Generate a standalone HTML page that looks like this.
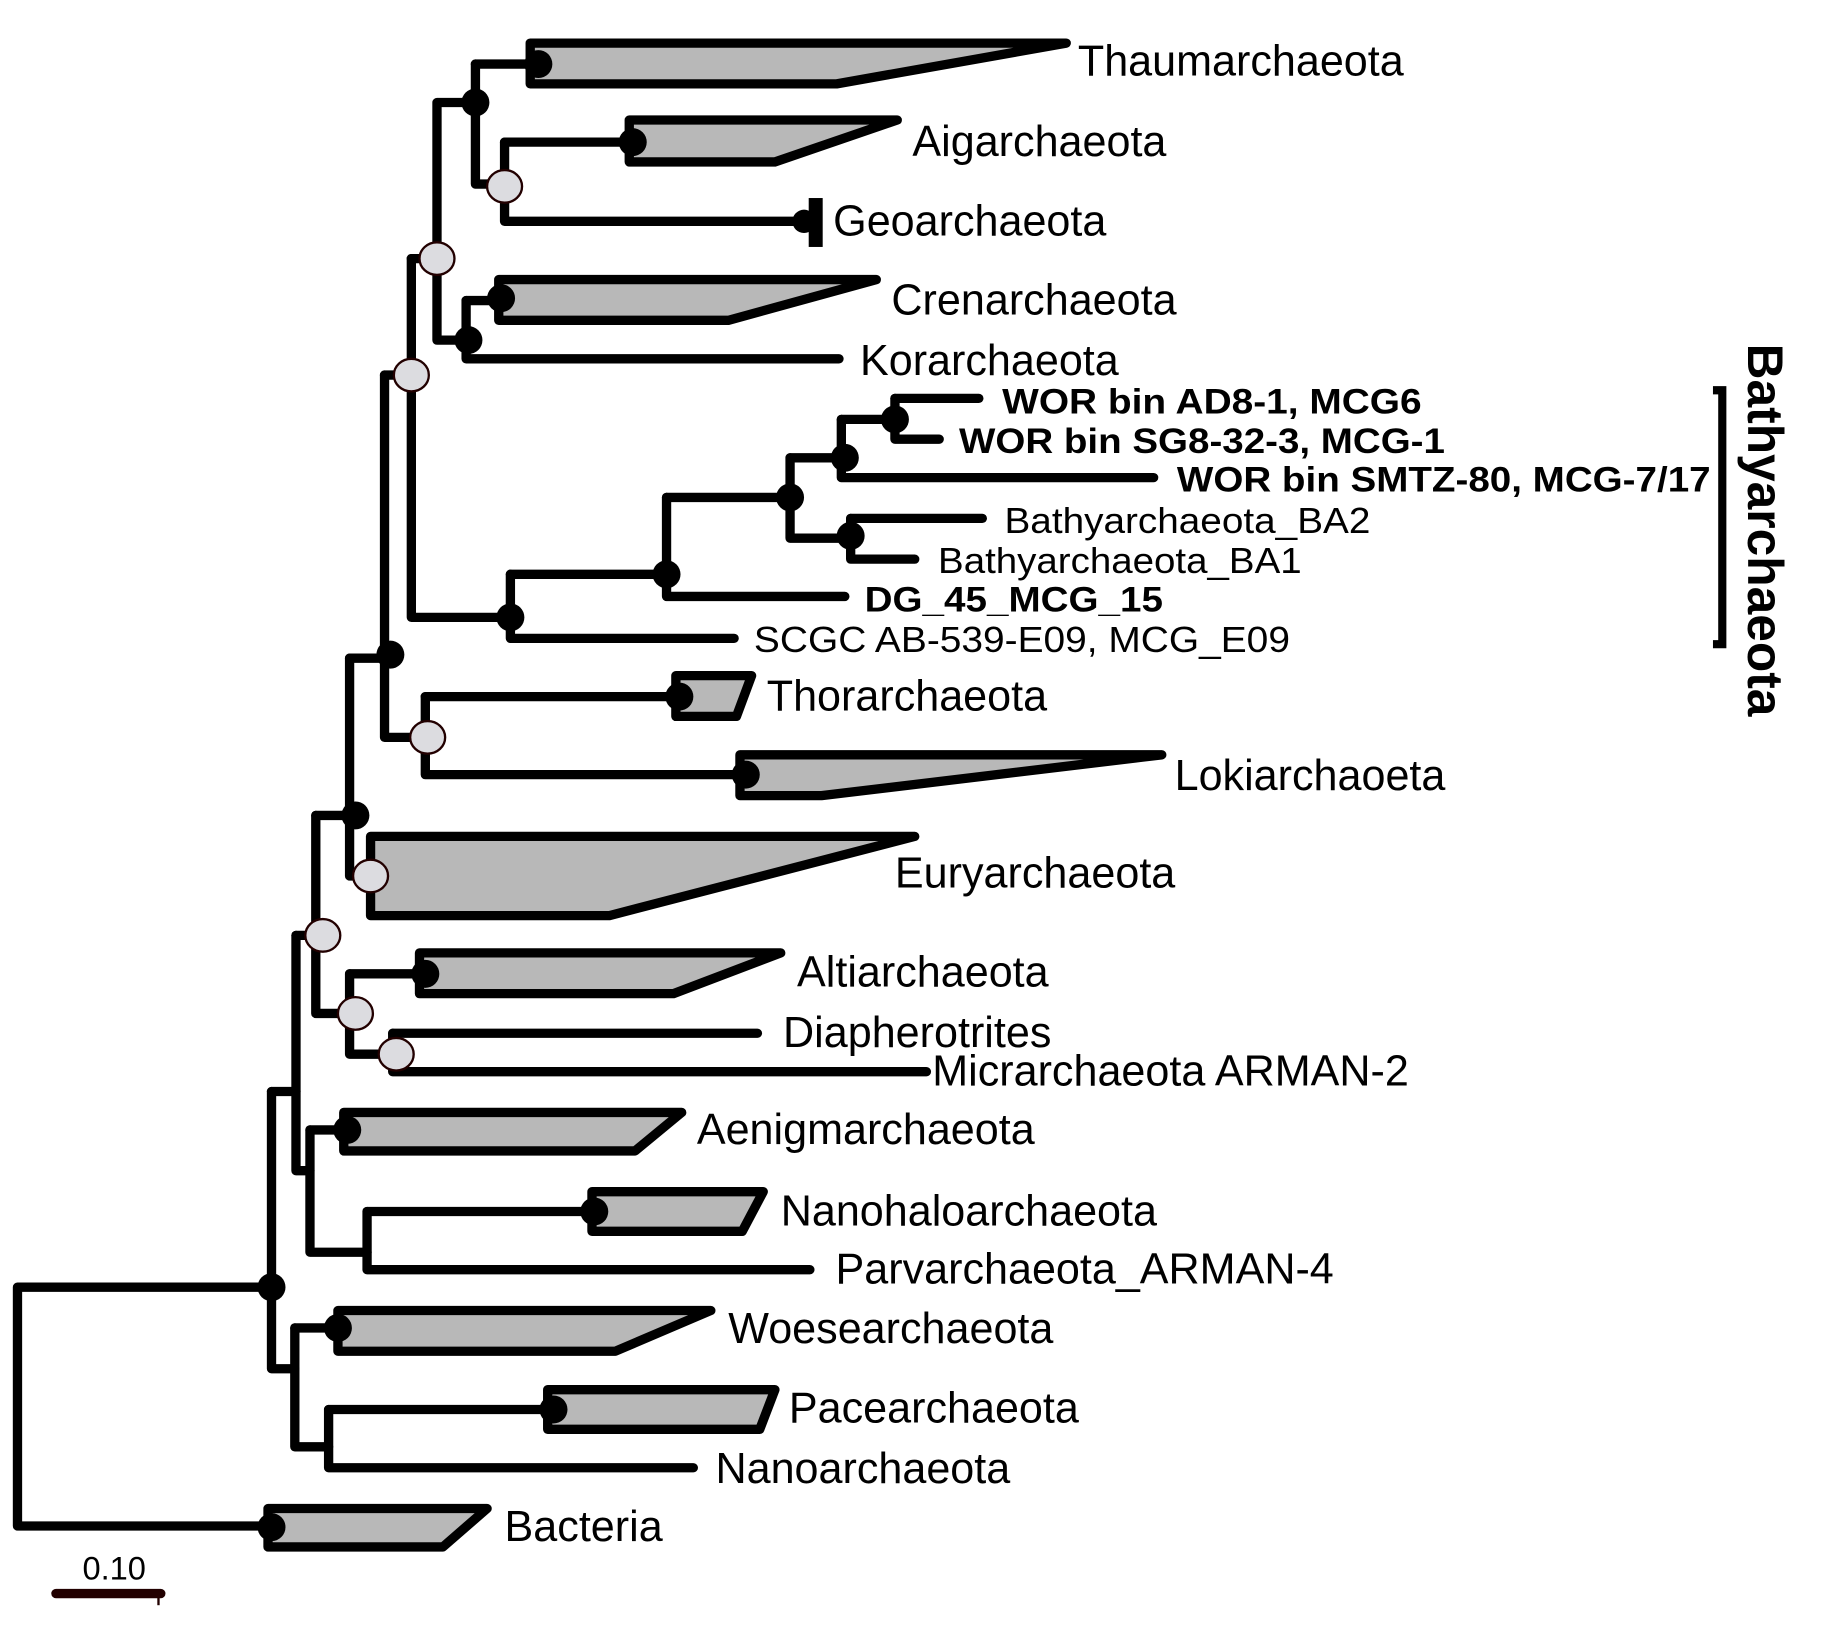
<!DOCTYPE html>
<html><head><meta charset="utf-8"><style>html,body{margin:0;padding:0;background:#fff}svg{display:block}</style></head>
<body>
<svg width="1826" height="1632" viewBox="0 0 1567 1401" preserveAspectRatio="none" xmlns="http://www.w3.org/2000/svg">
<g fill="none" stroke="#000" stroke-width="8" stroke-linejoin="round" stroke-linecap="round">
<path d="M233 1105 H15 V1310 H233"/>
<path d="M233 937 V1175 H253"/>
<path d="M253 1140 V1242 H282"/>
<path d="M290 1140 H253"/>
<path d="M282 1210 V1260 H595"/>
<path d="M282 1210 H475"/>
<path d="M233 937 H254 V1005 H266"/>
<path d="M254 803 V937"/>
<path d="M254 803 H271"/>
<path d="M266 970 V1075 H315"/>
<path d="M266 970 H298"/>
<path d="M315 1040 V1090 H695"/>
<path d="M315 1040 H510"/>
<path d="M271 700 V870 H300"/>
<path d="M271 700 H305"/>
<path d="M300 836 V905 H340"/>
<path d="M300 836 H365"/>
<path d="M337 887 V920 H795"/>
<path d="M337 887 H650"/>
<path d="M300 565 V752 H318"/>
<path d="M300 565 H335"/>
<path d="M330 322 V633 H367"/>
<path d="M330 322 H353"/>
<path d="M365 598 V665 H640"/>
<path d="M365 598 H583"/>
<path d="M353 222 V530 H438"/>
<path d="M438 493 V548 H630"/>
<path d="M438 493 H572"/>
<path d="M572 427 V512 H725"/>
<path d="M572 427 H678"/>
<path d="M678 393 V462 H730"/>
<path d="M678 393 H725"/>
<path d="M722 360 V410 H990"/>
<path d="M722 360 H768"/>
<path d="M768 342 V377 H806"/>
<path d="M768 342 H840"/>
<path d="M730 445 V480 H785"/>
<path d="M730 445 H843"/>
<path d="M353 222 H375 V88 H408"/>
<path d="M375 222 V292 H402"/>
<path d="M408 55 V158 H433"/>
<path d="M408 55 H462"/>
<path d="M433 122 V190 H695"/>
<path d="M433 122 H543"/>
<path d="M400 258 V308 H720"/>
<path d="M400 258 H430"/>
</g>
<g fill="#b8b8b8" stroke="#000" stroke-width="8" stroke-linejoin="round">
<polygon points="455,37 915,37 718,72 455,72"/>
<polygon points="540,103 770,103 665,139 540,139"/>
<polygon points="428,240 752,240 625,275 428,275"/>
<polygon points="580,580 645,580 632,615 580,615"/>
<polygon points="635,648 997,648 705,683 635,683"/>
<polygon points="318,718 785,718 523,786 318,786"/>
<polygon points="360,818 670,818 578,853 360,853"/>
<polygon points="295,955 585,955 545,988 295,988"/>
<polygon points="508,1023 655,1023 637,1057 508,1057"/>
<polygon points="290,1125 610,1125 528,1160 290,1160"/>
<polygon points="470,1193 665,1193 652,1227 470,1227"/>
<polygon points="230,1295 418,1295 380,1328 230,1328"/>
</g>
<rect x="694" y="170" width="12" height="42" fill="#000"/>
<g fill="#000">
<circle cx="462" cy="55" r="12"/><circle cx="408" cy="88" r="12"/><circle cx="543" cy="122" r="12"/>
<circle cx="690" cy="190" r="10"/><circle cx="430" cy="256" r="12"/><circle cx="402" cy="292" r="12"/>
<circle cx="768" cy="360" r="12"/><circle cx="725" cy="393" r="12"/><circle cx="678" cy="427" r="12"/>
<circle cx="730" cy="460" r="12"/><circle cx="572" cy="493" r="12"/><circle cx="438" cy="530" r="12"/>
<circle cx="335" cy="562" r="12"/><circle cx="583" cy="598" r="12"/><circle cx="640" cy="665" r="12"/>
<circle cx="305" cy="700" r="12"/><circle cx="365" cy="836" r="12"/><circle cx="298" cy="970" r="12"/>
<circle cx="510" cy="1040" r="12"/><circle cx="233" cy="1105" r="12"/><circle cx="290" cy="1140" r="12"/>
<circle cx="475" cy="1210" r="12"/><circle cx="233" cy="1311" r="12"/>
</g>
<g fill="#dcdce0" stroke="#200" stroke-width="2">
<ellipse cx="433" cy="160" rx="15" ry="14"/><ellipse cx="375" cy="222" rx="15" ry="14"/>
<ellipse cx="353" cy="322" rx="15" ry="14"/><ellipse cx="367" cy="633" rx="15" ry="14"/>
<ellipse cx="318" cy="752" rx="15" ry="14"/><ellipse cx="277" cy="803" rx="15" ry="14"/>
<ellipse cx="305" cy="870" rx="15" ry="14"/><ellipse cx="340" cy="905" rx="15" ry="14"/>
</g>
<g font-family="Liberation Sans, Arial, sans-serif" font-size="37" fill="#000" dominant-baseline="central">
<text x="925" y="53">Thaumarchaeota</text>
<text x="783" y="122">Aigarchaeota</text>
<text x="715" y="190">Geoarchaeota</text>
<text x="765" y="258">Crenarchaeota</text>
<text x="738" y="310">Korarchaeota</text>
<text x="658" y="598">Thorarchaeota</text>
<text x="1008" y="666">Lokiarchaoeta</text>
<text x="768" y="750">Euryarchaeota</text>
<text x="684" y="835">Altiarchaeota</text>
<text x="672" y="887">Diapherotrites</text>
<text x="800" y="920">Micrarchaeota ARMAN-2</text>
<text x="598" y="970">Aenigmarchaeota</text>
<text x="670" y="1040">Nanohaloarchaeota</text>
<text x="717" y="1090">Parvarchaeota_ARMAN-4</text>
<text x="625" y="1141">Woesearchaeota</text>
<text x="677" y="1209">Pacearchaeota</text>
<text x="614" y="1261">Nanoarchaeota</text>
<text x="433" y="1311">Bacteria</text>
</g>
<g font-family="Liberation Sans, Arial, sans-serif" font-size="30" font-weight="bold" fill="#000" dominant-baseline="central" lengthAdjust="spacingAndGlyphs">
<text x="860" y="345" textLength="360" lengthAdjust="spacingAndGlyphs">WOR bin AD8-1, MCG6</text>
<text x="823" y="379" textLength="417" lengthAdjust="spacingAndGlyphs">WOR bin SG8-32-3, MCG-1</text>
<text x="1010" y="412" textLength="458" lengthAdjust="spacingAndGlyphs">WOR bin SMTZ-80, MCG-7/17</text>
<text x="742" y="515" textLength="256" lengthAdjust="spacingAndGlyphs">DG_45_MCG_15</text>
</g>
<g font-family="Liberation Sans, Arial, sans-serif" font-size="31" fill="#000" dominant-baseline="central">
<text x="862" y="447" textLength="314" lengthAdjust="spacingAndGlyphs">Bathyarchaeota_BA2</text>
<text x="805" y="481" textLength="312" lengthAdjust="spacingAndGlyphs">Bathyarchaeota_BA1</text>
<text x="647" y="549" textLength="460" lengthAdjust="spacingAndGlyphs">SCGC AB-539-E09, MCG_E09</text>
</g>
<path d="M1470 335 H1478 V553 H1470" fill="none" stroke="#000" stroke-width="7"/>
<text transform="translate(1500,455) rotate(90)" text-anchor="middle" font-family="Liberation Sans, Arial, sans-serif" font-size="43" font-weight="bold" textLength="320" lengthAdjust="spacingAndGlyphs">Bathyarchaeota</text>
<line x1="48" y1="1368" x2="138" y2="1368" stroke="#200" stroke-width="8" stroke-linecap="round"/>
<line x1="136" y1="1368" x2="136" y2="1378" stroke="#200" stroke-width="2"/>
<text x="98" y="1356" text-anchor="middle" font-family="Liberation Sans, Arial, sans-serif" font-size="28">0.10</text>
</svg>
</body></html>
